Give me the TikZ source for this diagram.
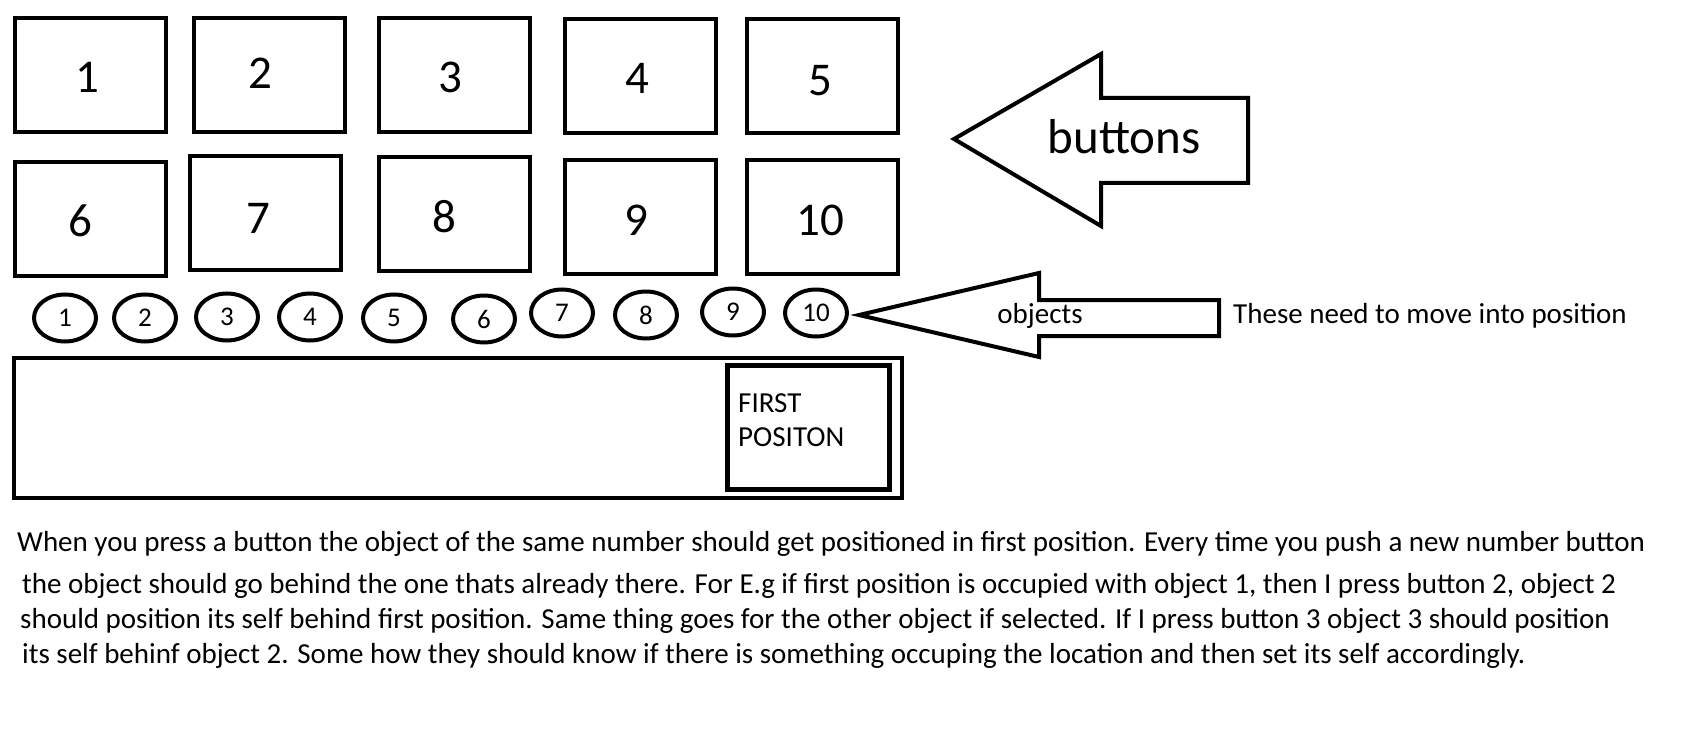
\documentclass[tikz,border=0pt]{standalone}
\usepackage{fontspec}
\setmainfont{Carlito}
\usetikzlibrary{shapes.geometric}

\begin{document}
\begin{tikzpicture}[x=1pt,y=-1pt,
		btn/.style={draw, line width=4pt, minimum width=151pt, minimum height=114pt, inner sep=0pt},
		num/.style={inner sep=0pt, font=\fontsize{47}{47}\selectfont},
		obj/.style={draw, ellipse, line width=4pt, minimum width=62pt, minimum height=47pt, inner sep=0pt, font=\fontsize{27}{27}\selectfont},
		txt/.style={inner sep=0pt, anchor=west, font=\fontsize{29}{29}\selectfont}]
	\useasboundingbox (0,0) rectangle (1691,738);
	\node[btn] (b1) at (90,75) {};
	\node[btn] (b2) at (269,75) {};
	\node[btn] (b3) at (454,75) {};
	\node[btn] (b4) at (640,76) {};
	\node[btn] (b5) at (822,76) {};
	\node[btn] (b6) at (90,219) {};
	\node[btn] (b7) at (265,213) {};
	\node[btn] (b8) at (454,214) {};
	\node[btn] (b9) at (640,217) {};
	\node[btn] (b10) at (822,217) {};
	\node[num] (n1) at (87,77) {1};
	\node[num] (n2) at (260,73) {2};
	\node[num] (n3) at (450,77) {3};
	\node[num] (n4) at (637,78) {4};
	\node[num] (n5) at (820,81) {5};
	\node[num] (n6) at (80,221) {6};
	\node[num] (n7) at (258,218) {7};
	\node[num] (n8) at (444,217) {8};
	\node[num] (n9) at (636,220) {9};
	\node[num] (n10) at (820,220) {10};
	\node[obj] (o1) at (65,318) {1};
	\node[obj] (o2) at (145,318) {2};
	\node[obj] (o3) at (227,317) {3};
	\node[obj] (o4) at (310,317) {4};
	\node[obj] (o5) at (394,318) {5};
	\node[obj] (o6) at (484,319) {6};
	\node[obj] (o7) at (562,313) {7};
	\node[obj] (o8) at (646,315) {8};
	\node[obj] (o9) at (733,312) {9};
	\node[obj] (o10) at (816,313) {10};
	\node[draw, line width=4.5pt, minimum width=888pt, minimum height=140pt] (track) at (458,428) {};
	\node[draw, line width=5pt, minimum width=162pt, minimum height=124pt] (first) at (808.5,427.5) {};
	\node[inner sep=0pt, align=left, anchor=west, font=\fontsize{29}{34}\selectfont] (firstlbl) at (738,420) {FIRST\\POSITON};
	\draw[line width=4pt] (954,139) -- (1101,54) -- (1101,98) -- (1248,98) -- (1248,183) -- (1101,183) -- (1101,226) -- cycle;
	\node[font=\fontsize{49}{49}\selectfont] (btnlbl) at (1124,137) {buttons};
	\draw[line width=4pt] (859,315) -- (1039,273) -- (1039,300) -- (1219,300) -- (1219,336) -- (1039,336) -- (1039,357) -- cycle;
	\node[font=\fontsize{29}{29}\selectfont] (objlbl) at (1040,316) {objects};
	\node[inner sep=0pt, anchor=west, font=\fontsize{29}{29}\selectfont] (note) at (1233,316) {These need to move into position};
	\node[txt] (l1) at (17,544) {When you press a button the object of the same number should get positioned in first position. Every time you push a new number button};
	\node[txt] (l2) at (22,586) {the object should go behind the one thats already there. For E.g if first position is occupied with object 1, then I press button 2, object 2};
	\node[txt] (l3) at (20,621) {should position its self behind first position. Same thing goes for the other object if selected. If I press button 3 object 3 should position};
	\node[txt] (l4) at (22,656) {its self behinf object 2. Some how they should know if there is something occuping the location and then set its self accordingly.};
\end{tikzpicture}
\end{document}
